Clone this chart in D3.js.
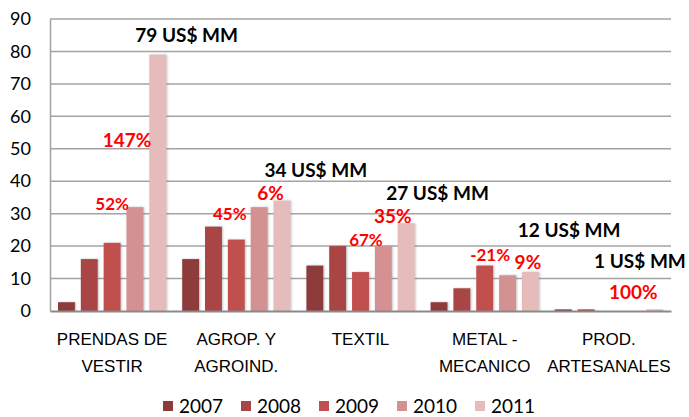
<!DOCTYPE html>
<html>
<head>
<meta charset="utf-8">
<script src="https://cdn.jsdelivr.net/npm/d3@7"></script>
<style>
  body { margin: 0; background: #fff; }
  svg { font-family: Lato, "Open Sans", sans-serif; }
</style>
</head>
<body>
<script>
// data
const categories = ['PRENDAS DE|VESTIR', 'AGROP. Y|AGROIND.', 'TEXTIL', 'METAL -|MECANICO', 'PROD.|ARTESANALES'];
const years = ['2007', '2008', '2009', '2010', '2011'];
const v2007 = [2.7, 16, 14, 2.7, 0.5];
const v2008 = [16, 26, 20, 7, 0.5];
const v2009 = [21, 22, 12, 14, 0];
const v2010 = [32, 32, 20, 11, 0];
const v2011 = [79, 34, 27, 12, 0.5];
const yTicks = [0, 10, 20, 30, 40, 50, 60, 70, 80, 90];

// totals above each group: text, position in band, value
const totalLabels = ['79 US$ MM', '34 US$ MM', '27 US$ MM', '12 US$ MM', '1 US$ MM'];
const totalPos = [1.10, 1.14, 1.12, 1.18, 0.75];
const totalVal = [82.9, 41.3, 34.2, 22.8, 13.3];

// growth labels
const pctLabels = ['147%', '52%', '45%', '6%', '67%', '35%', '-21%', '9%', '100%'];
const pctCat = [0, 0, 1, 1, 2, 2, 3, 3, 4];
const pctPos = [0.62, 0.50, 0.448, 0.776, 0.544, 0.76, 0.544, 0.848, 0.696];
const pctVal = [50.6, 31.1, 28.1, 34.2, 20.0, 27.1, 15.4, 12.9, 3.7];
const pctBig = [true, false, false, true, false, true, false, true, true];

const colors = ['#8e3a3a', '#a94545', '#c0504d', '#d39291', '#e5bbbb'];
const series = [v2007, v2008, v2009, v2010, v2011];

const W = 689, H = 417;
const svg = d3.select('body').append('svg').attr('width', W).attr('height', H);

const defs = svg.append('defs');
const f = defs.append('filter').attr('id', 'sh').attr('x', '-30%').attr('y', '-5%').attr('width', '160%').attr('height', '110%');
f.append('feDropShadow').attr('dx', 1).attr('dy', 0).attr('stdDeviation', 1.2)
  .attr('flood-color', '#777').attr('flood-opacity', 0.45);

const x0 = d3.scaleBand().domain(d3.range(categories.length)).range([50, 671]);
const x1 = d3.scaleBand().domain(years).range([0, x0.bandwidth()]).paddingInner(0.26).paddingOuter(0.35);
const y = d3.scaleLinear().domain([0, 90]).range([311, 19]);

// gridlines
svg.append('g').selectAll('line').data(yTicks.slice(1)).enter().append('line')
  .attr('x1', 50).attr('x2', 671)
  .attr('y1', d => y(d)).attr('y2', d => y(d))
  .attr('stroke', '#a3a3a3').attr('stroke-width', 1.5);

// y axis
const yAxis = svg.append('g').attr('transform', 'translate(50,0)')
  .call(d3.axisLeft(y).tickValues(yTicks).tickSize(0).tickPadding(19));
yAxis.select('.domain').attr('stroke', '#a3a3a3').attr('stroke-width', 1.5);
yAxis.selectAll('text').attr('font-size', 18).attr('fill', '#000').attr('font-family', 'Lato');

// bars
const groups = svg.append('g').selectAll('g').data(categories).enter().append('g')
  .attr('transform', (d, i) => `translate(${x0(i)},0)`);
groups.selectAll('rect')
  .data((d, i) => years.map((yr, j) => ({ yr, v: series[j][i], j })))
  .enter().append('rect')
  .attr('x', d => x1(d.yr))
  .attr('width', x1.bandwidth())
  .attr('y', d => y(d.v))
  .attr('height', d => y(0) - y(d.v))
  .attr('fill', d => colors[d.j])
  .attr('filter', d => d.v > 0 ? 'url(#sh)' : null);

// x axis
const xAxis = svg.append('g').attr('transform', 'translate(0,311)')
  .call(d3.axisBottom(x0).tickSize(0).tickFormat(''));
xAxis.select('.domain').attr('stroke', '#8a8a8a').attr('stroke-width', 2);
xAxis.selectAll('.tick').each(function (d) {
  const lines = categories[d].split('|');
  const t = d3.select(this).append('text')
    .attr('fill', '#000').attr('font-size', 17).attr('text-anchor', 'middle');
  lines.forEach((l, k) => t.append('tspan').attr('x', 0).attr('y', 34 + k * 27).text(l));
});

// total labels
svg.append('g').selectAll('text').data(totalLabels).enter().append('text')
  .attr('x', (d, i) => x0(i) + totalPos[i] * x0.bandwidth())
  .attr('y', (d, i) => y(totalVal[i]))
  .attr('text-anchor', 'middle').attr('font-size', 19).attr('font-weight', 'bold')
  .attr('fill', '#000').text(d => d);

// growth labels
svg.append('g').selectAll('text').data(pctLabels).enter().append('text')
  .attr('x', (d, i) => x0(pctCat[i]) + pctPos[i] * x0.bandwidth())
  .attr('y', (d, i) => y(pctVal[i]))
  .attr('text-anchor', 'middle').attr('font-size', (d, i) => pctBig[i] ? 19 : 17)
  .attr('font-weight', 'bold').attr('fill', '#ff0000').text(d => d);

// legend
const leg = svg.append('g').selectAll('g').data(years).enter().append('g')
  .attr('transform', (d, i) => `translate(${163 + i * 78},0)`);
leg.append('rect').attr('x', 0).attr('y', 401).attr('width', 10).attr('height', 10)
  .attr('fill', (d, i) => colors[i]);
leg.append('text').attr('x', 16).attr('y', 413).attr('font-size', 19).attr('fill', '#000').text(d => d);
</script>
</body>
</html>
